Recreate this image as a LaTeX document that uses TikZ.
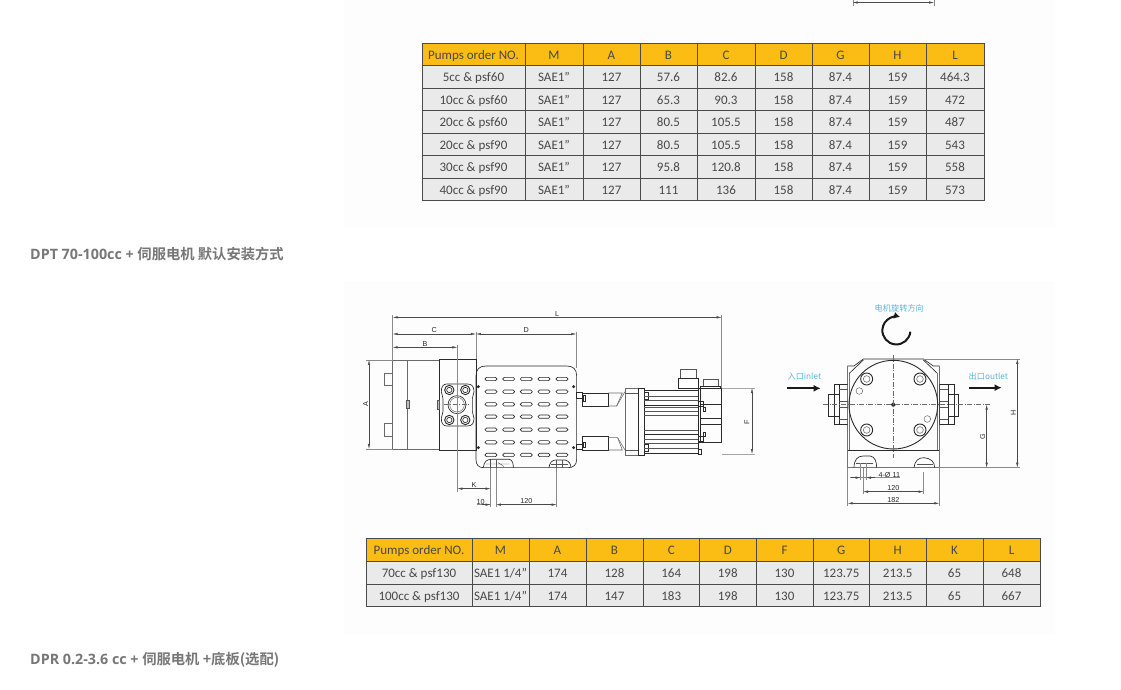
\documentclass[tikz,border=0pt]{standalone}
\usepackage{fontspec}
\setmainfont{Carlito}
\newfontfamily\cjkbold[BoldFont=Noto Sans CJK SC Bold]{Noto Sans CJK SC}
\newfontfamily\headfont{Open Sans}
\newfontfamily\cjk{Noto Sans CJK SC}
\newfontfamily\dimfont{Liberation Sans}
\usetikzlibrary{arrows.meta}
\definecolor{hdr}{HTML}{FBBC14}
\definecolor{cellbg}{HTML}{EAEAEA}
\definecolor{txt}{HTML}{484848}
\definecolor{headtxt}{HTML}{777777}
\definecolor{skyb}{HTML}{5DB5DB}
\definecolor{panel}{HTML}{FDFDFD}
\definecolor{ln}{HTML}{2A2A2A}
\tikzset{
 dimline/.style={draw=ln!85,line width=.45pt,{Latex[length=5pt,width=2.4pt]}-{Latex[length=5pt,width=2.4pt]}},
 endtip/.style={-{Latex[length=5pt,width=2.4pt]}},
 starttip/.style={{Latex[length=5pt,width=2.4pt]}-},
 extline/.style={draw=ln!55,line width=.4pt},
 part/.style={draw=ln,line width=.65pt},
 softpart/.style={draw=ln!70,line width=.55pt},
 thinpart/.style={draw=ln!80,line width=.4pt},
 centerl/.style={draw=ln!70,line width=.4pt,dash pattern=on 5pt off 1.5pt on 1pt off 1.5pt},
 dimlabel/.style={font=\dimfont\fontsize{7.2}{8}\selectfont,text=ln,inner sep=0pt},
 bluelabel/.style={font=\cjk\fontsize{8.2}{10}\selectfont,text=skyb,inner sep=0pt},
 celltext/.style={font=\fontsize{13}{15}\selectfont,text=txt,inner sep=0pt,text height=8.2pt,text depth=0pt},
 bigarrow/.style={draw=black!90,line width=1.9pt,-{Latex[length=7pt,width=7pt]}},
 heading/.style={font=\headfont\bfseries\fontsize{14.3}{16}\selectfont,text=headtxt,inner sep=0pt,anchor=west},
}
\newcommand{\saeq}{SAE1 1{/}4"}
% #1 name prefix, #2 row top, #3 row bottom, #4 fill, #5 list of x0/x1/text
\newcommand{\tablerow}[5]{%
 \foreach \xa/\xb/\tx [count=\ci] in {#5}{%
  \fill[#4] (\xa,#2) rectangle (\xb,#3);
  \draw[ln!85,line width=.6pt] (\xa,#2) rectangle (\xb,#3);
  \node[celltext] (#1c\ci) at ({(\xa+\xb)/2},{(#2+#3)/2+0.9}) {\tx};
 }}
\newcommand{\rowA}[6]{\tablerow{#1}{#2}{#3}{cellbg}{422/525/#4,525/583/SAE1",583/640/127,640/697/#5,697/755/#6,755/812/158,812/869/87.4,869/926/159,926/984/\lastL}}
\newcommand{\rowB}[6]{\tablerow{#1}{#2}{#3}{cellbg}{366/472/#4,472/529/\saeq,529/586/174,586/643/#5,643/699.5/#6,699.5/756/198,756/813/130,813/869.5/123.75,869.5/926/213.5,926/983/65,983/1040/\lastL}}
\begin{document}
\begin{tikzpicture}[x=1pt,y=-1pt]
\useasboundingbox (0,0) rectangle (1121,690);
\fill[white] (0,0) rectangle (1121,690);
\fill[panel] (344,0) rectangle (1055,228);
\fill[panel] (344,281) rectangle (1055,635);

% fragment of the drawing above, cut by the top edge
\draw[extline] (852.7,0) -- (852.7,6) (934,0) -- (934,6);
\draw[dimline] (852.7,2.5) -- (934,2.5);

% table 1
\tablerow{ta}{43.3}{65.3}{hdr}{422/525/Pumps order NO.,525/583/M,583/640/A,640/697/B,697/755/C,755/812/D,812/869/G,869/926/H,926/984/L}
\def\lastL{464.3}\rowA{tb}{65.3}{88}{5cc \& psf60}{57.6}{82.6}
\def\lastL{472}\rowA{tc}{88}{110.3}{10cc \& psf60}{65.3}{90.3}
\def\lastL{487}\rowA{td}{110.3}{133}{20cc \& psf60}{80.5}{105.5}
\def\lastL{543}\rowA{te}{133}{155.3}{20cc \& psf90}{80.5}{105.5}
\def\lastL{558}\rowA{tf}{155.3}{178}{30cc \& psf90}{95.8}{120.8}
\def\lastL{573}\rowA{tg}{178}{200.3}{40cc \& psf90}{111}{136}

% headings
\node[heading] (h1) at (30,254) {DPT 70-100cc + {\cjkbold\bfseries 伺服电机 默认安装方式}};
\node[heading] (h2) at (30,660) {DPR 0.2-3.6 cc + {\cjkbold\bfseries 伺服电机 +底板(选配)}};

% table 2
\tablerow{ua}{538}{561}{hdr}{366/472/Pumps order NO.,472/529/M,529/586/A,586/643/B,643/699.5/C,699.5/756/D,756/813/F,813/869.5/G,869.5/926/H,926/983/K,983/1040/L}
\def\lastL{648}\rowB{ub}{561}{584}{70cc \& psf130}{128}{164}
\def\lastL{667}\rowB{uc}{584}{606}{100cc \& psf130}{147}{183}

% ===== side view (coordinates in 1/3 px of crop at 350,300)
\begin{scope}[shift={(350,300)},x=.3333pt,y=-.3333pt]
 % pump
 \draw[softpart] (128,181) rectangle (172,447);
 \draw[softpart] (172,181) rectangle (268,447);
 \draw[part] (268,178) rectangle (378,452);
 \draw[softpart] (128,220) -- (104,220) -- (104,257) -- (128,257);
 \draw[softpart] (128,371) -- (104,371) -- (104,410) -- (128,410);
 \draw[thinpart,fill=black!25] (170,300) rectangle (178,325);
 \draw[thinpart,fill=black!25] (262,300) rectangle (268,328);
 % flange
 \draw[part] (290,252) -- (352,252) .. controls (368,252) and (372,262) .. (372,275) -- (367,296) -- (367,334) -- (372,355) .. controls (372,368) and (368,378) .. (352,378) -- (290,378) .. controls (278,378) and (274,368) .. (274,355) -- (279,334) -- (279,296) -- (274,275) .. controls (274,262) and (278,252) .. (290,252) -- cycle;
 \foreach \bx/\by in {298/270,346/270,298/360,346/360}{
  \draw[part,line width=.9pt] (\bx,\by) circle[radius=14];
  \draw[part] (\bx,\by) circle[radius=8];
 }
 \draw[part] (321,314) circle[radius=27];
 \draw[thinpart] (321,314) circle[radius=22];
 \draw[centerl] (282,314) -- (362,314);
 % cooling plate
 \draw[part] (378,228) .. controls (378,208) and (388,198) .. (408,198) -- (650,198) .. controls (670,198) and (680,208) .. (680,228) -- (680,478) .. controls (680,495) and (670,503) .. (655,503) -- (400,503) .. controls (386,503) and (378,495) .. (378,478) -- cycle;
 \foreach \sx in {423,476,529,582,636}{
  \foreach \sy in {237,275,313,350,389,427,465}{
   \draw[part,rounded corners=1.6pt] (\sx-18,\sy-5) rectangle (\sx+18,\sy+5);
  }
 }
 \foreach \dx/\dy in {385/260,385/443,671/260,671/443}{
  \fill[ln] (\dx,\dy) circle[radius=5];
 }
 % feet
 \draw[part] (400,503) .. controls (402,483) and (412,478) .. (425,478) -- (478,478) .. controls (488,480) and (490,492) .. (490,503);
 \draw[thinpart] (408,492) -- (478,492) (445,488) -- (462,500);
 \draw[part] (597,503) .. controls (599,488) and (606,480) .. (618,480) -- (645,480) .. controls (656,482) and (663,492) .. (663,503);
 \draw[thinpart] (604,492) -- (655,492);
 \foreach \vx in {422,438,620,636}{\draw[thinpart] (\vx,480) -- (\vx,503);}
 % couplings
 \draw[part] (680,278) rectangle (696,296);
 \draw[part] (696,279) rectangle (775,320);
 \draw[part] (700,287) rectangle (707,305);
 \draw[softpart] (775,279) -- (817,279) -- (800,318) -- (775,318);
 \draw[softpart] (800,318) -- (825,275);
 \draw[part] (680,434) rectangle (696,448);
 \draw[part] (696,410) rectangle (775,450);
 \draw[part] (700,427) rectangle (707,443);
 \draw[softpart] (775,413) -- (803,413) -- (817,450) -- (775,450);
 \draw[softpart] (803,413) -- (825,450);
 % motor
 \draw[softpart] (825,265) rectangle (865,465);
 \draw[thinpart] (825,280) -- (865,280) (825,450) -- (865,450);
 \draw[part] (865,265) rectangle (883,465);
 \draw[part] (883,270) rectangle (1045,460);
 \draw[part] (883,277) rectangle (895,298);
 \draw[part] (883,433) rectangle (895,455);
 \foreach \fy in {290,302,322,335,345,390,418,430,445}{
  \draw[thinpart] (883,\fy) -- (1045,\fy);
 }
 \draw[ln,line width=1pt] (883,318) -- (1045,318) (883,403) -- (1045,403);
 % rear
 \draw[part] (1045,265) rectangle (1113,428);
 \draw[part] (1052,265) -- (1052,428);
 \draw[ln,line width=1pt] (1052,315) -- (1113,315) (1052,357) -- (1113,357) (1052,375) -- (1113,375);
 \draw[part] (1045,305) rectangle (1060,320);
 \draw[part] (1060,322) rectangle (1067,335);
 \draw[part] (1045,408) rectangle (1060,425);
 \draw[part] (1060,396) rectangle (1067,410);
 \draw[part] (1045,447) rectangle (1054,463);
 % connectors
 \draw[part,line width=.9pt] (985,265) rectangle (1045,235);
 \draw[thinpart] (990,235) -- (990,207) -- (1040,207) -- (1040,235);
 \draw[part,line width=.9pt] (1052,265) rectangle (1112,258);
 \draw[thinpart] (1060,258) -- (1060,238) -- (1105,238) -- (1105,258);
 % dimensions
 \coordinate (la) at (128,52); \coordinate (lb) at (1115,52);
 \draw[extline] (128,45) -- (128,180) (1115,45) -- (1115,265);
 \draw[extline] (378,95) -- (378,178) (679,95) -- (679,205);
 \draw[extline] (322,135) -- (322,575);
 \draw[extline] (48,180) -- (128,180) (48,447) -- (128,447);
 \draw[extline] (422,505) -- (422,622) (438,505) -- (438,622) (620,505) -- (620,622);
 \draw[dimline] (la) -- node[above=1pt,dimlabel] (dL) {L} (lb);
 \draw[dimline] (128,102) -- node[above=1pt,dimlabel] (dC) {C} (378,102);
 \draw[dimline] (378,102) -- node[above=1pt,dimlabel] (dD) {D} (679,102);
 \draw[dimline] (128,142) -- node[above=1pt,dimlabel] (dB) {B} (322,142);
 \draw[dimline] (57,180) -- (57,447);
 \node[dimlabel,rotate=90] (dA) at (47,313) {A};
 \draw[dimline] (322,566) -- node[above=.7pt,dimlabel] (dK) {K} (422,566);
 \draw[extline] (380,614) -- (422,614);
 \draw[dimline,endtip] (395,614) -- (422,614);
 \node[dimlabel] (d10) at (392,605) {10};
 \draw[dimline] (438,614) -- node[above=.7pt,dimlabel] (d120) {120} (620,614);
\end{scope}
% F dimension
\draw[extline,draw=black!35,line width=.6pt] (722,388) -- (755,388) (722,454) -- (755,454);
\draw[dimline] (752,388) -- (752,454);
\node[dimlabel,rotate=90] (dF) at (747,422) {F};

% ===== end view (coordinates in 1/3 px of crop at 770,295)
\begin{scope}[shift={(770,295)},x=.3333pt,y=-.3333pt]
 \node[bluelabel] (rot) at (388,40) {电机旋转方向};
 \draw[black!90,line width=2pt,-{Latex[length=6pt,width=7pt]}] (421,110) arc[start angle=5,end angle=285,radius=42];
 \node[bluelabel] (inl) at (103,244) {入口inlet};
 \node[bluelabel] (outl) at (655,244) {出口outlet};
 \coordinate (ia) at (52,280); \coordinate (ib) at (152,280);
 \coordinate (oa) at (596,278); \coordinate (ob) at (695,278);
 \draw[bigarrow] (ia) -- (ib);
 \draw[bigarrow] (oa) -- (ob);
 % flanges
 \draw[part] (192,268) rectangle (238,388);
 \draw[part] (207,268) -- (207,388);
 \draw[part] (175,297) rectangle (207,363);
 \draw[thinpart] (207,282) -- (238,282) (207,374) -- (238,374) (207,320) -- (238,320) (207,338) -- (238,338);
 \draw[part] (508,268) rectangle (552,388);
 \draw[part] (535,268) -- (535,388);
 \draw[part] (535,297) rectangle (566,363);
 \draw[thinpart] (508,282) -- (535,282) (508,374) -- (535,374) (508,320) -- (535,320) (508,338) -- (535,338);
 % housing
 \draw[part,fill=panel] (233,518) -- (233,213) -- (252,213) -- (280,192) -- (460,192) -- (490,213) -- (508,213) -- (508,518) -- cycle;
 \draw[part] (238,465) -- (238,235) -- (280,195);
 \draw[part] (502,465) -- (502,235) -- (460,195);
 \draw[part] (233,465) -- (508,465);
 \draw[part,line width=.9pt] (370,329) circle[radius=133];
 \foreach \bx/\by in {290/252,450/252,290/405,450/405}{
  \draw[part,line width=.9pt] (\bx,\by) circle[radius=18];
  \draw[softpart] (\bx,\by) circle[radius=10];
 }
 \draw[thinpart] (268,288) circle[radius=10] (472,372) circle[radius=10];
 \draw[ln,line width=1.2pt] (370,329) circle[radius=5];
 \draw[centerl] (370,180) -- (370,490);
 \draw[centerl] (160,329) -- (660,329);
 % feet
 \draw[part] (252,518) .. controls (252,495) and (262,483) .. (280,483) -- (300,483) .. controls (315,485) and (320,500) .. (320,518);
 \draw[thinpart] (258,505) -- (310,505);
 \draw[part] (432,518) .. controls (434,498) and (445,488) .. (462,488) .. controls (482,490) and (494,500) .. (494,518);
 \draw[thinpart] (440,508) -- (488,508);
 % dimensions
 \draw[extline] (460,192) -- (750,192) (508,518) -- (750,518);
 \draw[dimline] (742,192) -- (742,518);
 \node[dimlabel,rotate=90] (dH) at (730,355) {H};
 \draw[dimline] (650,329) -- (650,518);
 \node[dimlabel,rotate=90] (dG) at (638,425) {G};
 \draw[extline] (272,505) -- (272,555) (288,505) -- (288,555);
 \draw[extline] (279,518) -- (279,597) (461,530) -- (461,597) (233,518) -- (233,632) (508,518) -- (508,632);
 \draw[extline] (240,548) -- (390,548);
 \draw[dimline,endtip] (244,548) -- (272,548);
 \draw[dimline,starttip] (288,548) -- (316,548);
 \node[dimlabel] (dphi) at (358,539) {4-Ø 11};
 \draw[dimline] (279,590) -- node[above=.7pt,dimlabel] (d120b) {120} (461,590);
 \draw[dimline] (233,625) -- node[above=.7pt,dimlabel] (d182) {182} (508,625);
\end{scope}
\end{tikzpicture}
\end{document}
